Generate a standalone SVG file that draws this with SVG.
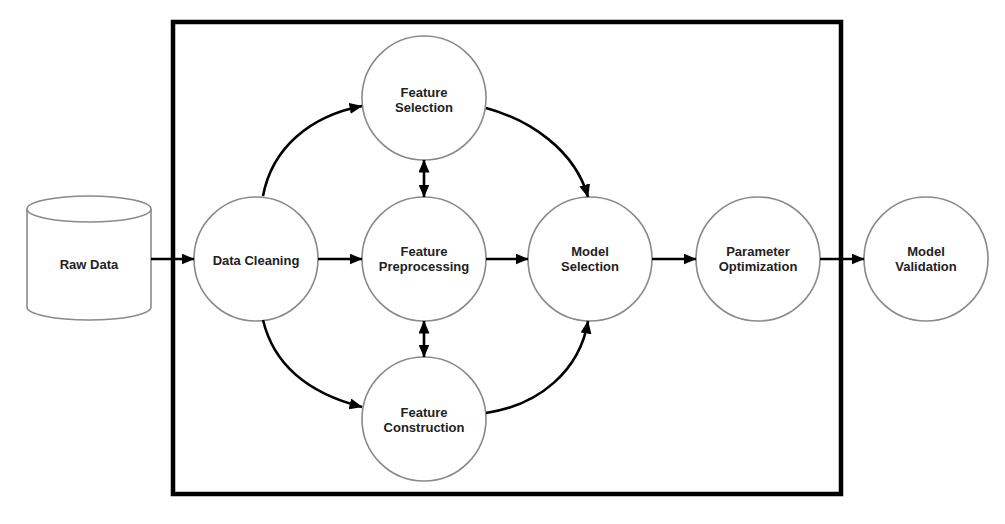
<svg xmlns="http://www.w3.org/2000/svg" width="1005" height="524" viewBox="0 0 1005 524">
<defs>
<style>
.node{fill:#fff;stroke:#8a8a8a;stroke-width:1.6}
.lbl{font-family:"Liberation Sans",Arial,sans-serif;font-weight:bold;font-size:13px;fill:#222;text-anchor:middle}
.edge{fill:none;stroke:#000;stroke-width:2.6}
</style>
<marker id="ah" markerUnits="userSpaceOnUse" markerWidth="13" markerHeight="11" viewBox="0 0 13 11" refX="12.5" refY="5.5" orient="auto-start-reverse">
<path d="M0,0 L13,5.5 L0,11 z" fill="#000"/>
</marker>
</defs>
<rect width="1005" height="524" fill="#fff"/>
<rect id="frame" x="173" y="22" width="668" height="472" fill="none" stroke="#000" stroke-width="4.5"/>
<g id="raw-data">
<path class="node" d="M27,209 L27,307 A62,13 0 0,0 151,307 L151,209"/>
<ellipse class="node" cx="89" cy="209" rx="62" ry="13"/>
<text class="lbl" x="89" y="269">Raw Data</text>
</g>
<g id="data-cleaning">
<circle class="node" cx="256" cy="259" r="62"/>
<text class="lbl" x="256" y="265">Data Cleaning</text>
</g>
<g id="feature-selection">
<circle class="node" cx="424" cy="98" r="62"/>
<text class="lbl" x="424" y="97">Feature</text>
<text class="lbl" x="424" y="112">Selection</text>
</g>
<g id="feature-preprocessing">
<circle class="node" cx="424" cy="259" r="62"/>
<text class="lbl" x="424" y="256">Feature</text>
<text class="lbl" x="424" y="271">Preprocessing</text>
</g>
<g id="feature-construction">
<circle class="node" cx="424" cy="419" r="62"/>
<text class="lbl" x="424" y="416.5">Feature</text>
<text class="lbl" x="424" y="431.5">Construction</text>
</g>
<g id="model-selection">
<circle class="node" cx="590" cy="259" r="62"/>
<text class="lbl" x="590" y="256">Model</text>
<text class="lbl" x="590" y="271">Selection</text>
</g>
<g id="parameter-optimization">
<circle class="node" cx="758" cy="259" r="62"/>
<text class="lbl" x="758" y="256">Parameter</text>
<text class="lbl" x="758" y="271">Optimization</text>
</g>
<g id="model-validation">
<circle class="node" cx="926" cy="259" r="62"/>
<text class="lbl" x="926" y="256">Model</text>
<text class="lbl" x="926" y="271">Validation</text>
</g>
<g id="connectors">
<path class="edge" d="M151,259 L194,259" marker-end="url(#ah)"/>
<path class="edge" d="M318,259 L362,259" marker-end="url(#ah)"/>
<path class="edge" d="M486,259 L528,259" marker-end="url(#ah)"/>
<path class="edge" d="M652,259 L696,259" marker-end="url(#ah)"/>
<path class="edge" d="M820,259 L864,259" marker-end="url(#ah)"/>
<path class="edge" d="M424,160 L424,197" marker-start="url(#ah)" marker-end="url(#ah)"/>
<path class="edge" d="M424,321 L424,357" marker-start="url(#ah)" marker-end="url(#ah)"/>
<path class="edge" d="M263,196 C272,148 310,116 362,106" marker-end="url(#ah)"/>
<path class="edge" d="M486,108 C530,120 575,150 588,197" marker-end="url(#ah)"/>
<path class="edge" d="M263,320 C275,370 315,395 362,407" marker-end="url(#ah)"/>
<path class="edge" d="M486,413 C540,405 580,370 588,321" marker-end="url(#ah)"/>
</g>
</svg>
